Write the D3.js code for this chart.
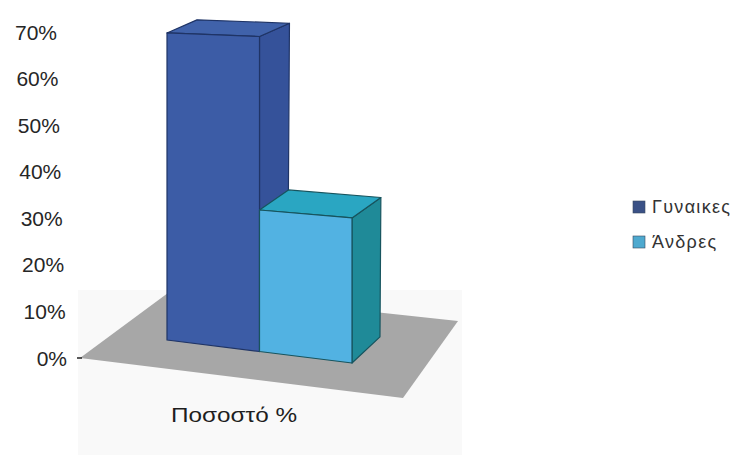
<!DOCTYPE html>
<html>
<head>
<meta charset="utf-8">
<script src="https://cdn.jsdelivr.net/npm/d3@7"></script>
<style>
  html, body { margin: 0; padding: 0; background: #ffffff; }
  svg { display: block; }
  text { font-family: "Liberation Sans", Arial, sans-serif; }
</style>
</head>
<body>
<svg id="chart" width="739" height="463"></svg>
<script>
// ---- data ----
const categories = ["Ποσοστό %"];
const seriesNames = ["Γυναικες", "Άνδρες"];
const seriesValues = [69, 31];
const tickValues = [0, 10, 20, 30, 40, 50, 60, 70];
const tickLabels = ["0%", "10%", "20%", "30%", "40%", "50%", "60%", "70%"];

// ---- styles ----
const faceColors = [
  { front: "#3c5ca6", top: "#4062aa", side: "#35529a", stroke: "#1f3466" },
  { front: "#52b2e2", top: "#2aa6c2", side: "#1f8a98", stroke: "#17545e" }
];
const legendColors = ["#3a5186", "#4ea9cf"];

const svg = d3.select("#chart");

// ---- scales ----
const yAxis = d3.scaleLinear().domain([0, 70]).range([358, 32]);
const labelRight = d3.scaleLinear().domain([0, 70]).range([67, 57]);
const xBand = d3.scaleBand().domain(seriesNames).range([167, 352]).padding(0);
const baseY = d3.scaleLinear().domain([167, 352]).range([340, 363]);
const unitPx = d3.scaleLinear().domain([167, 352]).range([4.45, 4.68]);
const depthDy = d3.scaleLinear().domain([30, 360]).range([-13, -26]);
const depthDx = d3.scaleLinear().domain([30, 360]).range([30, 28]);

function frontPt(x, v) { return [x, baseY(x) - unitPx(x) * v]; }
function backPt(p) { return [p[0] + depthDx(p[1]), p[1] + depthDy(p[1])]; }

// ---- faint backdrop ----
svg.append("rect")
  .attr("x", 78).attr("y", 290).attr("width", 384).attr("height", 165)
  .attr("fill", "#f9f9f9");

// ---- floor ----
const y0 = yAxis(0);
const floorPts = [[80, y0], [172, y0 - 68], [458, y0 - 37], [403, y0 + 40]];
svg.append("polygon")
  .attr("points", floorPts.map(p => p.join(",")).join(" "))
  .attr("fill", "#a7a7a7");

// ---- y axis labels ----
svg.append("g").selectAll("text")
  .data(tickValues)
  .join("text")
  .attr("x", d => labelRight(d))
  .attr("y", d => yAxis(d))
  .attr("dy", "0.36em")
  .attr("text-anchor", "end")
  .attr("font-size", 21)
  .attr("fill", "#262626")
  .text((d, i) => tickLabels[i]);

svg.append("line")
  .attr("x1", 77).attr("x2", 82).attr("y1", y0).attr("y2", y0)
  .attr("stroke", "#222").attr("stroke-width", 1.5);

// ---- bars ----
const bars = svg.append("g");
seriesNames.forEach((name, i) => {
  const v = seriesValues[i];
  const x0 = xBand(name), x1 = x0 + xBand.bandwidth();
  const fl = frontPt(x0, v), fr = frontPt(x1, v);
  const bl = frontPt(x0, 0), br = frontPt(x1, 0);
  const tl = backPt(fl), tr = backPt(fr), sb = backPt(br);
  const c = faceColors[i];
  const g = bars.append("g");
  const poly = pts => pts.map(p => p.join(",")).join(" ");
  g.append("polygon").attr("points", poly([fr, tr, sb, br]))
    .attr("fill", c.side).attr("stroke", c.stroke).attr("stroke-width", 1.2).attr("stroke-linejoin", "round");
  g.append("polygon").attr("points", poly([fl, fr, tr, tl]))
    .attr("fill", c.top).attr("stroke", c.stroke).attr("stroke-width", 1.2).attr("stroke-linejoin", "round");
  g.append("polygon").attr("points", poly([fl, fr, br, bl]))
    .attr("fill", c.front).attr("stroke", c.stroke).attr("stroke-width", 1.2).attr("stroke-linejoin", "round");
});

// ---- category label ----
svg.append("text")
  .attr("x", 234).attr("y", 415)
  .attr("dy", "0.36em")
  .attr("text-anchor", "middle")
  .attr("font-size", 20)
  .attr("fill", "#1e1e1e")
  .attr("textLength", 126)
  .attr("lengthAdjust", "spacingAndGlyphs")
  .text(categories[0]);

// ---- legend ----
const legend = svg.append("g");
seriesNames.forEach((name, i) => {
  const y = 207 + i * 35;
  legend.append("rect")
    .attr("x", 633).attr("y", y - 6).attr("width", 12).attr("height", 12)
    .attr("fill", legendColors[i]).attr("stroke", "#3a4a60").attr("stroke-width", 0.6);
  legend.append("text")
    .attr("x", 652).attr("y", y)
    .attr("dy", "0.36em")
    .attr("font-size", 18)
    .attr("fill", "#333")
    .attr("letter-spacing", 1.3)
    .text(name);
});
</script>
</body>
</html>
